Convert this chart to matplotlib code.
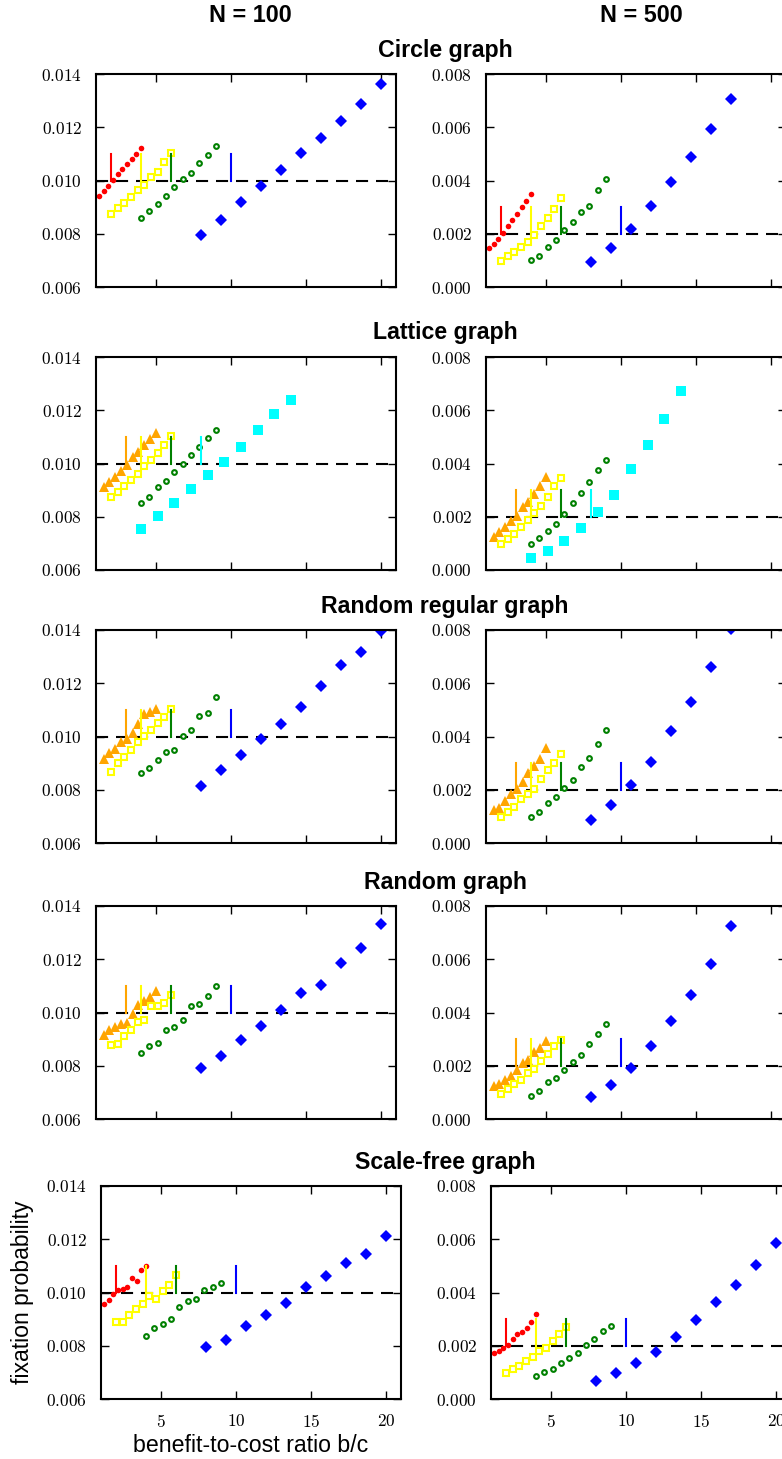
import matplotlib.pyplot as plt
from matplotlib.ticker import FuncFormatter, MultipleLocator

# b/c values for each degree k
x_k2 = [1.2, 1.51, 1.82, 2.13, 2.44, 2.76, 3.07, 3.38, 3.69, 4.0]
x_k3 = [1.5, 1.89, 2.28, 2.67, 3.06, 3.44, 3.83, 4.22, 4.61, 5.0]
x_k4 = [2.0, 2.44, 2.89, 3.33, 3.78, 4.22, 4.67, 5.11, 5.56, 6.0]
x_k6 = [4.0, 4.56, 5.11, 5.67, 6.22, 6.78, 7.33, 7.89, 8.44, 9.0]
x_k8 = [4.0, 5.11, 6.22, 7.33, 8.44, 9.56, 10.67, 11.78, 12.89, 14.0]
x_k10 = [8.0, 9.33, 10.67, 12.0, 13.33, 14.67, 16.0, 17.33, 18.67, 20.0]

# Circle graph
circle_100_k2 = [0.00941, 0.00961, 0.00981, 0.01001, 0.01023, 0.01043, 0.01061, 0.01080, 0.01098, 0.01121]
circle_100_k4 = [0.00874, 0.00896, 0.00916, 0.00938, 0.00966, 0.00983, 0.01013, 0.01031, 0.01069, 0.01105]
circle_100_k6 = [0.00861, 0.00884, 0.00911, 0.00941, 0.00974, 0.01006, 0.01028, 0.01064, 0.01095, 0.01129]
circle_100_k10 = [0.00794, 0.00850, 0.00921, 0.00979, 0.01038, 0.01105, 0.01158, 0.01223, 0.01286, 0.01364]
circle_500_k2 = [0.00146, 0.00161, 0.00180, 0.00203, 0.00230, 0.00253, 0.00274, 0.00299, 0.00324, 0.00348]
circle_500_k4 = [0.00098, 0.00115, 0.00133, 0.00150, 0.00170, 0.00196, 0.00230, 0.00259, 0.00293, 0.00335]
circle_500_k6 = [0.00100, 0.00118, 0.00149, 0.00178, 0.00213, 0.00243, 0.00280, 0.00306, 0.00363, 0.00404]
circle_500_k10 = [0.00094, 0.00146, 0.00219, 0.00306, 0.00394, 0.00490, 0.00593, 0.00706, 0.00840, 0.00980]

# Lattice graph
lattice_100_k3 = [0.00910, 0.00931, 0.00951, 0.00970, 0.00993, 0.01023, 0.01044, 0.01069, 0.01092, 0.01114]
lattice_100_k4 = [0.00873, 0.00893, 0.00916, 0.00937, 0.00962, 0.00989, 0.01013, 0.01038, 0.01069, 0.01103]
lattice_100_k6 = [0.00850, 0.00876, 0.00910, 0.00934, 0.00967, 0.00999, 0.01031, 0.01063, 0.01095, 0.01124]
lattice_100_k8 = [0.00753, 0.00801, 0.00853, 0.00903, 0.00956, 0.01006, 0.01063, 0.01125, 0.01186, 0.01237]
lattice_500_k3 = [0.00124, 0.00142, 0.00161, 0.00183, 0.00201, 0.00235, 0.00257, 0.00287, 0.00316, 0.00351]
lattice_500_k4 = [0.00098, 0.00115, 0.00137, 0.00161, 0.00186, 0.00213, 0.00240, 0.00273, 0.00315, 0.00346]
lattice_500_k6 = [0.00099, 0.00120, 0.00148, 0.00173, 0.00209, 0.00253, 0.00291, 0.00330, 0.00376, 0.00415]
lattice_500_k8 = [0.00045, 0.00073, 0.00108, 0.00156, 0.00216, 0.00283, 0.00381, 0.00470, 0.00568, 0.00673]

# Random regular graph
regular_100_k3 = [0.00916, 0.00939, 0.00954, 0.00979, 0.00990, 0.01015, 0.01048, 0.01084, 0.01091, 0.01105]
regular_100_k4 = [0.00868, 0.00899, 0.00923, 0.00948, 0.00981, 0.01003, 0.01026, 0.01049, 0.01074, 0.01105]
regular_100_k6 = [0.00863, 0.00880, 0.00910, 0.00943, 0.00951, 0.01003, 0.01025, 0.01076, 0.01089, 0.01150]
regular_100_k10 = [0.00813, 0.00874, 0.00929, 0.00989, 0.01048, 0.01109, 0.01190, 0.01268, 0.01318, 0.01396]
regular_500_k3 = [0.00125, 0.00131, 0.00156, 0.00185, 0.00204, 0.00230, 0.00264, 0.00289, 0.00316, 0.00355]
regular_500_k4 = [0.00096, 0.00115, 0.00135, 0.00165, 0.00185, 0.00203, 0.00241, 0.00275, 0.00300, 0.00334]
regular_500_k6 = [0.00099, 0.00116, 0.00149, 0.00173, 0.00208, 0.00235, 0.00284, 0.00320, 0.00370, 0.00425]
regular_500_k10 = [0.00086, 0.00143, 0.00216, 0.00306, 0.00419, 0.00531, 0.00660, 0.00805, 0.00960, 0.01100]

# Random graph
random_100_k3 = [0.00914, 0.00933, 0.00944, 0.00958, 0.00960, 0.00996, 0.01028, 0.01043, 0.01058, 0.01080]
random_100_k4 = [0.00878, 0.00881, 0.00911, 0.00935, 0.00963, 0.00973, 0.01023, 0.01023, 0.01034, 0.01065]
random_100_k6 = [0.00849, 0.00873, 0.00886, 0.00936, 0.00946, 0.00970, 0.01025, 0.01031, 0.01061, 0.01098]
random_100_k10 = [0.00790, 0.00835, 0.00895, 0.00948, 0.01009, 0.01073, 0.01105, 0.01185, 0.01241, 0.01333]
random_500_k3 = [0.00124, 0.00131, 0.00145, 0.00161, 0.00185, 0.00209, 0.00221, 0.00250, 0.00265, 0.00294]
random_500_k4 = [0.00095, 0.00113, 0.00130, 0.00145, 0.00173, 0.00188, 0.00219, 0.00244, 0.00274, 0.00296]
random_500_k6 = [0.00086, 0.00106, 0.00138, 0.00155, 0.00183, 0.00213, 0.00239, 0.00280, 0.00319, 0.00356]
random_500_k10 = [0.00083, 0.00128, 0.00190, 0.00273, 0.00368, 0.00464, 0.00584, 0.00725, 0.00880, 0.01050]

# Scale-free graph
scalefree_100_k2 = [0.00957, 0.00970, 0.00993, 0.01008, 0.01014, 0.01020, 0.01054, 0.01043, 0.01085, 0.01099]
scalefree_100_k4 = [0.00888, 0.00888, 0.00914, 0.00939, 0.00957, 0.00985, 0.00976, 0.01005, 0.01030, 0.01064]
scalefree_100_k6 = [0.00838, 0.00867, 0.00883, 0.00900, 0.00944, 0.00967, 0.00977, 0.01008, 0.01020, 0.01035]
scalefree_100_k10 = [0.00796, 0.00822, 0.00873, 0.00916, 0.00962, 0.01020, 0.01061, 0.01110, 0.01145, 0.01211]
scalefree_500_k2 = [0.00173, 0.00182, 0.00192, 0.00204, 0.00227, 0.00243, 0.00252, 0.00266, 0.00291, 0.00319]
scalefree_500_k4 = [0.00099, 0.00113, 0.00125, 0.00143, 0.00159, 0.00181, 0.00193, 0.00216, 0.00246, 0.00272]
scalefree_500_k6 = [0.00085, 0.00100, 0.00113, 0.00134, 0.00154, 0.00172, 0.00202, 0.00226, 0.00255, 0.00275]
scalefree_500_k10 = [0.00069, 0.00098, 0.00137, 0.00177, 0.00232, 0.00298, 0.00364, 0.00430, 0.00503, 0.00587]

graph_titles = ['Circle graph', 'Lattice graph', 'Random regular graph', 'Random graph', 'Scale-free graph']
sizes = [100, 500]

xs = {2: x_k2, 3: x_k3, 4: x_k4, 6: x_k6, 8: x_k8, 10: x_k10}

panels = [
    [{2: circle_100_k2, 4: circle_100_k4, 6: circle_100_k6, 10: circle_100_k10},
     {2: circle_500_k2, 4: circle_500_k4, 6: circle_500_k6, 10: circle_500_k10}],
    [{3: lattice_100_k3, 4: lattice_100_k4, 6: lattice_100_k6, 8: lattice_100_k8},
     {3: lattice_500_k3, 4: lattice_500_k4, 6: lattice_500_k6, 8: lattice_500_k8}],
    [{3: regular_100_k3, 4: regular_100_k4, 6: regular_100_k6, 10: regular_100_k10},
     {3: regular_500_k3, 4: regular_500_k4, 6: regular_500_k6, 10: regular_500_k10}],
    [{3: random_100_k3, 4: random_100_k4, 6: random_100_k6, 10: random_100_k10},
     {3: random_500_k3, 4: random_500_k4, 6: random_500_k6, 10: random_500_k10}],
    [{2: scalefree_100_k2, 4: scalefree_100_k4, 6: scalefree_100_k6, 10: scalefree_100_k10},
     {2: scalefree_500_k2, 4: scalefree_500_k4, 6: scalefree_500_k6, 10: scalefree_500_k10}],
]

styles = {
    2: dict(color='#ff0000', marker='o', ms=4, mfc='#ff0000', mec='#ff0000', mew=0),
    3: dict(color='#ffa500', marker='^', ms=7.5, mfc='#ffa500', mec='#ffa500', mew=0),
    4: dict(color='#ffff00', marker='s', ms=4.0, mfc='white', mec='#ffff00', mew=1.5),
    6: dict(color='#008000', marker='o', ms=3.4, mfc='white', mec='#008000', mew=1.5),
    8: dict(color='#00ffff', marker='s', ms=7, mfc='#00ffff', mec='#00ffff', mew=0),
    10: dict(color='#0000ff', marker='D', ms=6.5, mfc='#0000ff', mec='#0000ff', mew=0),
}

plt.rcParams['mathtext.fontset'] = 'cm'
plt.rcParams['font.family'] = ['Liberation Sans', 'DejaVu Sans']

W, H = 782, 1459
fig = plt.figure(figsize=(W / 100, H / 100), dpi=100)

row_tops = [74, 357, 630, 906, 1186]
col_lefts = [[96, 486], [96, 486], [96, 486], [96, 486], [101, 491]]
ax_w, ax_h = 300, 213

tick_fmt = FuncFormatter(lambda v, p: r'$%.3f$' % v)
xtick_fmt = FuncFormatter(lambda v, p: r'$%d$' % v)

for r, title in enumerate(graph_titles):
    for c, n in enumerate(sizes):
        left = col_lefts[r][c]
        top = row_tops[r]
        ax = fig.add_axes([left / W, 1 - (top + ax_h) / H, ax_w / W, ax_h / H])

        base = 1.0 / n
        ax.axhline(base, color='black', lw=1.5, dashes=(5.8, 3.8), zorder=1)
        for k, ys in panels[r][c].items():
            st = styles[k]
            ax.plot(xs[k], ys, linestyle='none', marker=st['marker'], ms=st['ms'],
                    mfc=st['mfc'], mec=st['mec'], mew=st['mew'], zorder=2)
            # vertical mark at the critical ratio b/c = k
            ax.plot([k, k], [base, base + 0.001], color=st['color'], lw=1.5, zorder=3)

        ax.set_xlim(1, 21)
        if n == 100:
            ax.set_ylim(0.006, 0.014)
        else:
            ax.set_ylim(0.0, 0.008)
        ax.xaxis.set_major_locator(MultipleLocator(5))
        ax.yaxis.set_major_locator(MultipleLocator(0.002))
        ax.yaxis.set_major_formatter(tick_fmt)
        ax.xaxis.set_major_formatter(xtick_fmt)
        ax.tick_params(direction='in', length=6, width=1, top=True, right=True,
                       labelsize=12.5, pad=10)
        if r < len(graph_titles) - 1:
            ax.tick_params(labelbottom=False)
        for sp in ax.spines.values():
            sp.set_linewidth(1.5)

    fig.text(445 / W, 1 - (row_tops[r] - 24) / H, title, ha='center', va='center',
             fontsize=16.7, fontweight='bold')

fig.text(250 / W, 1 - 16 / H, 'N = 100', ha='center', va='center', fontsize=16.8, fontweight='bold')
fig.text(641 / W, 1 - 16 / H, 'N = 500', ha='center', va='center', fontsize=16.8, fontweight='bold')

fig.text(23 / W, 1 - 1292 / H, 'fixation probability', ha='center', va='center',
         rotation=90, fontsize=16.6)
fig.text(251 / W, 1 - 1445 / H, 'benefit-to-cost ratio b/c', ha='center', va='center',
         fontsize=16.7)

fig.savefig('out.png', dpi=100)
